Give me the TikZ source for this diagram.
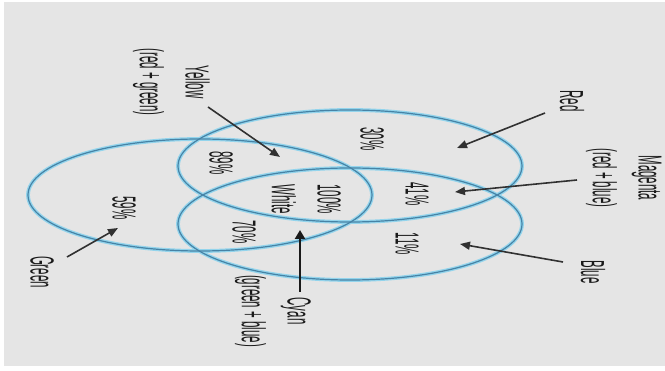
\documentclass[tikz,border=0pt]{standalone}
\usepackage{fontspec}
\usepackage{graphicx}
\setmainfont{Liberation Sans}
\usetikzlibrary{arrows.meta}
\definecolor{bggray}{HTML}{E5E5E5}
\definecolor{halo}{HTML}{93D4EC}
\definecolor{ringcore}{HTML}{4683A6}
\definecolor{inkc}{HTML}{1A1A1A}
\newcommand{\strt}[1]{\scalebox{1}[2.9]{#1}}
\newcommand{\twoline}[2]{\strt{\begin{tabular}{@{}c@{}}#1\\#2\end{tabular}}}
\tikzset{
  lbl/.style={rotate=-90, inner sep=0pt, text=inkc, font=\fontsize{11.5}{15.8}\selectfont},
  ringhalo/.style={draw=halo, line width=3.8pt},
  ringline/.style={draw=ringcore, line width=1.2pt},
  pointer/.style={draw=inkc!90, line width=1.6pt, -{Triangle[length=10pt,width=8pt]}},
  bigpointer/.style={draw=inkc, line width=2.6pt, -{Triangle[length=9pt,width=10pt]}}
}
\begin{document}
\begin{tikzpicture}[x=1pt,y=-1pt]
\useasboundingbox (0,0) rectangle (665,371);
\fill[white] (0,0) rectangle (665,371);
\fill[bggray] (4,2) rectangle (665,366);

% circles (drawn as ellipses, as in the stretched reference)
\foreach \cx/\cy in {350/166, 350/224, 200/195}{
  \draw[ringhalo] (\cx,\cy) ellipse [x radius=172, y radius=56];
}
\foreach \cx/\cy in {350/166, 350/224, 200/195}{
  \draw[ringline] (\cx,\cy) ellipse [x radius=172, y radius=56];
}

% region values
\node[lbl] (p30)  at (372,139) {\strt{30\%}};
\node[lbl] (p89)  at (221,163) {\strt{89\%}};
\node[lbl] (p41)  at (417,194) {\strt{41\%}};
\node[lbl] (p100) at (304,199) {\twoline{100\%}{White}};
\node[lbl] (p70)  at (244,232) {\strt{70\%}};
\node[lbl] (p11)  at (407,244) {\strt{11\%}};
\node[lbl] (p59)  at (124,208) {\strt{59\%}};

% colour labels
\node[lbl] (red)     at (572,101) {\strt{Red}};
\node[lbl] (magenta) at (625,178) {\twoline{Magenta}{(red + blue)}};
\node[lbl] (blue)    at (593,272) {\strt{Blue}};
\node[lbl] (cyan)    at (274,311) {\twoline{Cyan}{(green + blue)}};
\node[lbl] (green)   at (42,272)  {\strt{Green}};
\node[lbl] (yellow)  at (172,82)  {\twoline{Yellow}{(red + green)}};

% arrow ends
\coordinate (redT) at (545,113);  \coordinate (redH) at (457,148);
\coordinate (magT) at (577,180);  \coordinate (magH) at (455,192);
\coordinate (bluT) at (563,262);  \coordinate (bluH) at (460,244);
\coordinate (cyaT) at (300,292);  \coordinate (cyaH) at (300,230);
\coordinate (greT) at (67,257);   \coordinate (greH) at (118,228);
\coordinate (yelT) at (208,107);  \coordinate (yelH) at (280,157);

\draw[pointer] (redT) -- (redH);
\draw[pointer] (magT) -- (magH);
\draw[pointer] (bluT) -- (bluH);
\draw[bigpointer] (cyaT) -- (cyaH);
\draw[pointer] (greT) -- (greH);
\draw[pointer] (yelT) -- (yelH);
\end{tikzpicture}
\end{document}
